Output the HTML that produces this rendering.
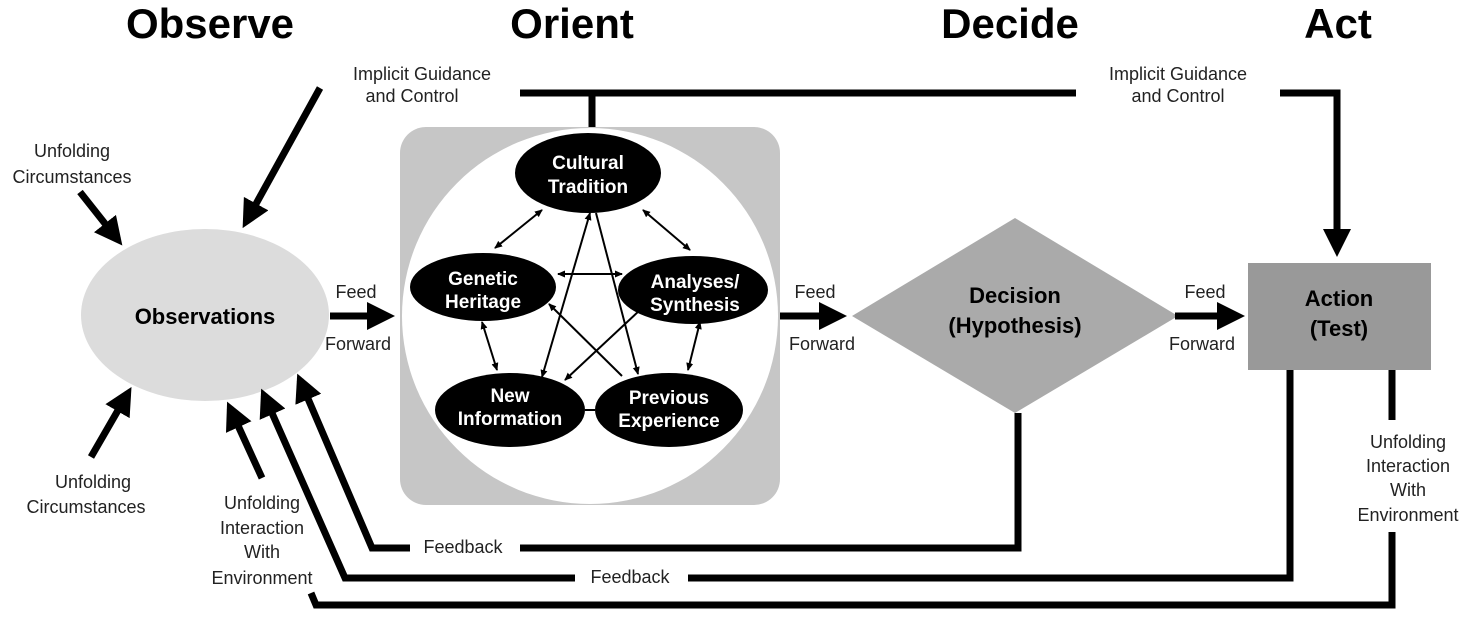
<!DOCTYPE html>
<html><head><style>
html,body{margin:0;padding:0;background:#fff;}
svg{display:block;font-family:"Liberation Sans",Arial,sans-serif;}
</style></head><body>
<svg width="1483" height="643" viewBox="0 0 1483 643">
<defs>
<marker id="ah" markerWidth="4" markerHeight="4" refX="3" refY="2" orient="auto" markerUnits="strokeWidth"><path d="M0,0 L4,2 L0,4 z" fill="#000"/></marker>
<marker id="sa" markerWidth="8" markerHeight="8" refX="7" refY="4" orient="auto-start-reverse" markerUnits="userSpaceOnUse"><path d="M0,0.5 L8,4 L0,7.5 z" fill="#000"/></marker>
</defs>
<g font-weight="bold" font-size="42" text-anchor="middle" fill="#000">
<text x="210" y="38">Observe</text>
<text x="572" y="38">Orient</text>
<text x="1010" y="38">Decide</text>
<text x="1338" y="38">Act</text>
</g>
<rect x="400" y="127" width="380" height="378" rx="26" fill="#c6c6c6"/>
<ellipse cx="590" cy="316" rx="188" ry="188" fill="#fff"/>
<ellipse cx="205" cy="315" rx="124" ry="86" fill="#dcdcdc"/>
<text x="205" y="324" font-size="22" font-weight="bold" text-anchor="middle">Observations</text>
<polygon points="852,316 1015,218 1178,316 1015,413" fill="#aaa"/>
<text x="1015" y="303" font-size="22" font-weight="bold" text-anchor="middle">Decision</text>
<text x="1015" y="333" font-size="22" font-weight="bold" text-anchor="middle">(Hypothesis)</text>
<rect x="1248" y="263" width="183" height="107" fill="#999"/>
<text x="1339" y="306" font-size="22" font-weight="bold" text-anchor="middle">Action</text>
<text x="1339" y="336" font-size="22" font-weight="bold" text-anchor="middle">(Test)</text>
<g stroke="#000" stroke-width="2" fill="none">
<line x1="542" y1="210" x2="495" y2="248" marker-start="url(#sa)" marker-end="url(#sa)"/>
<line x1="643" y1="210" x2="690" y2="250" marker-start="url(#sa)" marker-end="url(#sa)"/>
<line x1="558" y1="274" x2="622" y2="274" marker-start="url(#sa)" marker-end="url(#sa)"/>
<line x1="482" y1="322" x2="497" y2="370" marker-start="url(#sa)" marker-end="url(#sa)"/>
<line x1="700" y1="322" x2="688" y2="370" marker-start="url(#sa)" marker-end="url(#sa)"/>
<line x1="590" y1="213" x2="542" y2="377" marker-start="url(#sa)" marker-end="url(#sa)"/>
<line x1="596" y1="213" x2="638" y2="374" marker-end="url(#sa)"/>
<line x1="640" y1="310" x2="565" y2="380" marker-end="url(#sa)"/>
<line x1="549" y1="304" x2="622" y2="376" marker-start="url(#sa)"/>
<line x1="585" y1="410" x2="595" y2="410"/>
</g>
<g fill="#000">
<ellipse cx="588" cy="173" rx="73" ry="40"/>
<ellipse cx="483" cy="287" rx="73" ry="34"/>
<ellipse cx="693" cy="290" rx="75" ry="34"/>
<ellipse cx="510" cy="410" rx="75" ry="37"/>
<ellipse cx="669" cy="410" rx="74" ry="37"/>
</g>
<g fill="#fff" font-size="19" font-weight="bold" text-anchor="middle">
<text x="588" y="169">Cultural</text><text x="588" y="193">Tradition</text>
<text x="483" y="285">Genetic</text><text x="483" y="308">Heritage</text>
<text x="695" y="288">Analyses/</text><text x="695" y="311">Synthesis</text>
<text x="510" y="402">New</text><text x="510" y="425">Information</text>
<text x="669" y="404">Previous</text><text x="669" y="427">Experience</text>
</g>
<g stroke="#000" stroke-width="7" fill="none">
<polyline points="520,93 1076,93"/>
<line x1="592" y1="93" x2="592" y2="127"/>
<polyline points="1280,93 1337,93 1337,250" marker-end="url(#ah)"/>
<line x1="330" y1="316" x2="388" y2="316" marker-end="url(#ah)"/>
<line x1="780" y1="316" x2="840" y2="316" marker-end="url(#ah)"/>
<line x1="1175" y1="316" x2="1238" y2="316" marker-end="url(#ah)"/>
<line x1="80" y1="192" x2="118" y2="240" marker-end="url(#ah)"/>
<line x1="91" y1="457" x2="128" y2="393" marker-end="url(#ah)"/>
<line x1="320" y1="88" x2="246" y2="222" marker-end="url(#ah)"/>
<line x1="262" y1="478" x2="230" y2="408" marker-end="url(#ah)"/>
<polyline points="1018,413 1018,548 520,548"/>
<polyline points="410,548 372,548 300,380" marker-end="url(#ah)"/>
<polyline points="1290,370 1290,578 688,578"/>
<polyline points="575,578 345,578 264,395" marker-end="url(#ah)"/>
<polyline points="1392,370 1392,420"/>
<polyline points="1392,532 1392,605 316,605 311,593"/>
</g>
<g font-size="18" text-anchor="middle" fill="#222">
<text x="422" y="80">Implicit Guidance</text><text x="412" y="102">and Control</text>
<text x="1178" y="80">Implicit Guidance</text><text x="1178" y="102">and Control</text>
<text x="72" y="157">Unfolding</text><text x="72" y="183">Circumstances</text>
<text x="93" y="488">Unfolding</text><text x="86" y="513">Circumstances</text>
<text x="262" y="509">Unfolding</text><text x="262" y="534">Interaction</text><text x="262" y="558">With</text><text x="262" y="584">Environment</text>
<text x="1408" y="448">Unfolding</text><text x="1408" y="472">Interaction</text><text x="1408" y="496">With</text><text x="1408" y="521">Environment</text>
<text x="356" y="298">Feed</text><text x="358" y="350">Forward</text>
<text x="815" y="298">Feed</text><text x="822" y="350">Forward</text>
<text x="1205" y="298">Feed</text><text x="1202" y="350">Forward</text>
<text x="463" y="553">Feedback</text>
<text x="630" y="583">Feedback</text>
</g>
</svg>
</body></html>
